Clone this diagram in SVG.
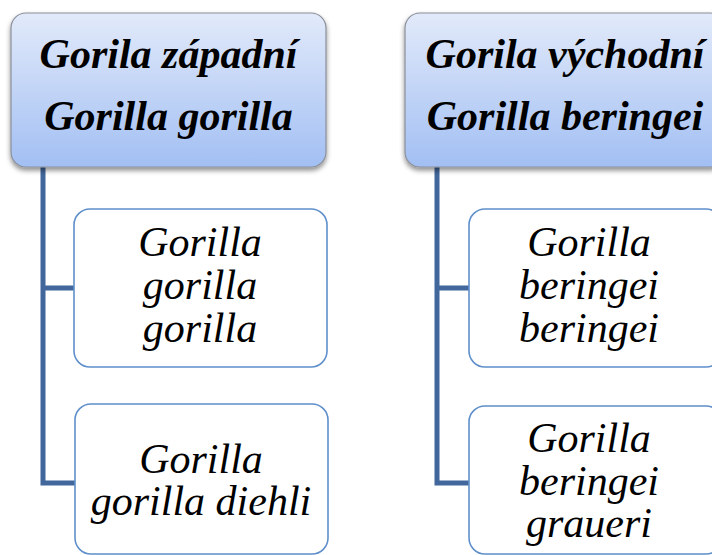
<svg xmlns="http://www.w3.org/2000/svg" width="712" height="555" viewBox="0 0 712 555">
  <defs>
    <linearGradient id="hdrFill" x1="0" y1="0" x2="0" y2="1">
      <stop offset="0" stop-color="#e2eafa"/>
      <stop offset="1" stop-color="#a2bff3"/>
    </linearGradient>
    <filter id="shadow" x="-10%" y="-10%" width="120%" height="130%">
      <feDropShadow dx="0" dy="3" stdDeviation="2.5" flood-color="#000" flood-opacity="0.45"/>
    </filter>
    <style>
      .hdr { fill: url(#hdrFill); stroke: #8a8f99; stroke-width: 1.2; filter: url(#shadow); }
      .child { fill: #ffffff; stroke: #5f8fca; stroke-width: 1.6; }
      .conn { fill: none; stroke: #41679c; stroke-width: 5; stroke-linejoin: miter; }
    </style>
  </defs>
  <rect width="712" height="555" fill="#ffffff"/>

  <!-- connectors -->
  <g id="connectors">
    <path class="conn" d="M43 167 V483 H75 M43 288 H75"/>
    <path class="conn" d="M437 167 V483 H470 M437 288 H470"/>
  </g>

  <!-- western gorilla -->
  <g id="western">
    <rect class="hdr" x="11" y="13" width="315" height="154" rx="15"/>
    <g text-anchor="middle" style="font-family: 'Liberation Serif', serif; font-style: italic; font-weight: bold; font-size: 42px">
      <text x="168.5" y="68">Gorila západní</text>
      <text x="168.5" y="130">Gorilla gorilla</text>
    </g>
  </g>

  <g id="ggg">
    <rect class="child" x="74" y="209" width="253" height="158" rx="16"/>
    <g text-anchor="middle" style="font-family: 'Liberation Serif', serif; font-style: italic; font-size: 42px">
      <text x="200" y="256">Gorilla</text>
      <text x="200" y="299">gorilla</text>
      <text x="200" y="342">gorilla</text>
    </g>
  </g>

  <g id="ggd">
    <rect class="child" x="75" y="404" width="253" height="150" rx="16"/>
    <g text-anchor="middle" style="font-family: 'Liberation Serif', serif; font-style: italic; font-size: 42px">
      <text x="201" y="473">Gorilla</text>
      <text x="201" y="515">gorilla diehli</text>
    </g>
  </g>

  <!-- eastern gorilla -->
  <g id="eastern">
    <rect class="hdr" x="405" y="13" width="320" height="154" rx="15"/>
    <g text-anchor="middle" style="font-family: 'Liberation Serif', serif; font-style: italic; font-weight: bold; font-size: 42px">
      <text x="565" y="68">Gorila východní</text>
      <text x="565" y="130">Gorilla beringei</text>
    </g>
  </g>

  <g id="gbb">
    <rect class="child" x="469" y="209" width="253" height="158" rx="16"/>
    <g text-anchor="middle" style="font-family: 'Liberation Serif', serif; font-style: italic; font-size: 42px">
      <text x="589" y="256">Gorilla</text>
      <text x="589" y="299">beringei</text>
      <text x="589" y="342">beringei</text>
    </g>
  </g>

  <g id="gbg">
    <rect class="child" x="469" y="406" width="253" height="148" rx="16"/>
    <g text-anchor="middle" style="font-family: 'Liberation Serif', serif; font-style: italic; font-size: 42px">
      <text x="589" y="452">Gorilla</text>
      <text x="589" y="495">beringei</text>
      <text x="589" y="537">graueri</text>
    </g>
  </g>
</svg>
